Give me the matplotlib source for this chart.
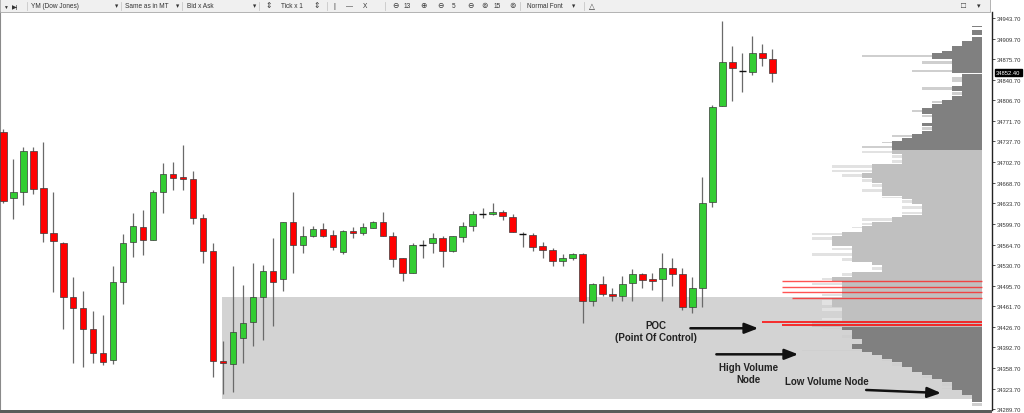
import matplotlib
matplotlib.use("Agg")
import matplotlib.pyplot as plt
from matplotlib.patches import Rectangle
from matplotlib.lines import Line2D
import numpy as np

plt.rcParams['font.family'] = ['Liberation Sans', 'DejaVu Sans']

# ------------------------------------------------------------------ data
opens = [34752.9, 34642.4, 34653.4, 34722.1, 34659.1, 34584.3, 34567.0, 34476.6, 34458.2, 34423.6,
         34382.9, 34371.7, 34502.8, 34568.7, 34594.8, 34572.6, 34652.4, 34682.5, 34677.5, 34674.7,
         34609.4, 34553.6, 34370.5, 34365.0, 34409.0, 34435.8, 34476.6, 34521.2, 34507.3, 34602.2,
         34564.2, 34578.8, 34591.0, 34580.9, 34553.0, 34588.1, 34584.3, 34593.2, 34603.2, 34579.8,
         34541.9, 34516.8, 34564.7, 34567.0, 34575.4, 34554.2, 34577.1, 34596.0, 34616.6, 34616.6,
         34619.9, 34611.1, 34582.6, 34581.4, 34562.0, 34555.8, 34537.4, 34542.4, 34548.6, 34470.5,
         34498.4, 34481.7, 34478.8, 34500.1, 34515.1, 34507.3, 34507.3, 34525.7, 34515.1, 34459.9,
         34493.0, 34636.7, 34796.4, 34870.0, 34855.5, 34853.3, 34886.1, 34875.6]
highs = [34758.4, 34708.2, 34728.8, 34728.8, 34736.1, 34652.4, 34568.7, 34510.1, 34486.7, 34453.2,
         34447.0, 34529.5, 34582.6, 34617.3, 34622.8, 34656.3, 34701.0, 34702.6, 34732.1, 34688.6,
         34616.1, 34567.5, 34403.0, 34529.5, 34497.2, 34534.1, 34531.2, 34575.9, 34603.2, 34652.4,
         34595.5, 34596.5, 34601.0, 34589.3, 34589.3, 34593.8, 34600.5, 34604.4, 34618.9, 34585.5,
         34541.9, 34567.5, 34573.1, 34584.3, 34579.8, 34579.8, 34603.2, 34620.6, 34625.6, 34634.5,
         34622.8, 34616.6, 34585.5, 34584.3, 34568.7, 34558.7, 34548.6, 34550.8, 34550.3, 34500.1,
         34512.3, 34492.7, 34512.8, 34524.0, 34516.8, 34516.8, 34550.8, 34541.9, 34525.2, 34510.1,
         34677.5, 34799.1, 34938.7, 34897.8, 34885.6, 34913.6, 34900.7, 34891.8]
lows = [34634.0, 34607.7, 34631.7, 34649.6, 34569.7, 34486.0, 34423.6, 34366.2, 34360.5, 34366.2,
        34363.8, 34365.0, 34465.4, 34543.6, 34548.0, 34572.6, 34617.3, 34656.8, 34656.8, 34599.3,
        34534.1, 34343.7, 34314.8, 34318.6, 34366.2, 34395.6, 34405.2, 34429.1, 34487.7, 34517.3,
        34550.8, 34577.1, 34577.1, 34555.8, 34549.1, 34575.9, 34581.4, 34592.1, 34578.8, 34527.9,
        34503.9, 34516.8, 34542.4, 34550.8, 34526.9, 34553.0, 34569.7, 34587.6, 34608.9, 34614.4,
        34606.0, 34585.5, 34561.3, 34554.2, 34542.4, 34529.5, 34528.5, 34539.1, 34433.6, 34462.1,
        34479.3, 34470.5, 34470.5, 34471.0, 34492.7, 34488.9, 34471.0, 34496.1, 34455.4, 34450.4,
        34459.9, 34627.3, 34796.4, 34805.8, 34820.8, 34849.3, 34864.3, 34837.6]
closes = [34638.4, 34653.4, 34722.1, 34657.9, 34584.3, 34570.9, 34476.6, 34458.2, 34423.6, 34382.9,
          34367.8, 34501.8, 34567.5, 34595.5, 34572.6, 34653.4, 34682.5, 34675.9, 34674.7, 34609.4,
          34554.7, 34369.5, 34366.2, 34418.0, 34433.6, 34476.6, 34520.2, 34502.8, 34603.2, 34564.7,
          34578.8, 34591.0, 34579.8, 34560.3, 34588.1, 34584.3, 34594.8, 34603.2, 34578.8, 34540.8,
          34516.8, 34564.2, 34564.7, 34575.9, 34554.2, 34578.8, 34596.5, 34615.6, 34616.6, 34618.9,
          34612.7, 34585.5, 34582.6, 34561.3, 34556.3, 34537.9, 34542.4, 34548.6, 34469.9, 34498.4,
          34481.7, 34478.8, 34499.4, 34515.1, 34505.1, 34503.9, 34525.7, 34515.1, 34459.9, 34492.7,
          34634.2, 34794.7, 34870.0, 34860.0, 34855.5, 34886.1, 34876.7, 34852.4]
current_price = 34852.40

tick_labels = ["34943.70", "34909.70", "34875.70", "34840.70", "34806.70", "34771.70", "34737.70",
               "34702.70", "34668.70", "34633.70", "34599.70", "34564.70", "34530.70", "34495.70",
               "34461.70", "34426.70", "34392.70", "34358.70", "34323.70", "34289.70"]

# volume profile: price level tops (each level ends at the next top), volume, lighter volume
prof_top = [34931.6, 34928.3, 34923.3, 34915.7, 34911.9, 34906.2, 34897.3, 34889.5, 34885.6, 34875.6,
            34863.8, 34858.8, 34852.1, 34830.4, 34822.0, 34813.6, 34806.9, 34800.2, 34793.5, 34783.5,
            34776.8, 34768.4, 34763.4, 34755.0, 34750.0, 34743.3, 34738.3, 34733.3, 34723.2, 34716.5,
            34708.2, 34699.8, 34691.4, 34684.7, 34676.4, 34668.0, 34659.6, 34651.3, 34646.2, 34641.2,
            34632.8, 34621.1, 34614.4, 34611.1, 34602.7, 34596.0, 34591.0, 34586.0, 34579.3, 34570.9,
            34562.5, 34552.5, 34544.1, 34535.7, 34530.7, 34519.0, 34510.6, 34503.9, 34493.9, 34485.5,
            34475.5, 34460.4, 34452.0, 34443.7, 34437.0, 34426.9, 34421.9, 34415.2, 34406.8, 34398.5,
            34390.1, 34385.1, 34380.1, 34373.4, 34368.3, 34360.0, 34351.6, 34346.6, 34339.9, 34334.9,
            34326.5, 34321.5, 34313.1, 34301.4]
prof_vol = [10, 0, 10, 0, 10, 20, 30, 40, 50, 30,
            30, 30, 20, 30, 20, 30, 40, 50, 60, 50,
            50, 60, 50, 60, 70, 80, 90, 90, 90, 80,
            80, 110, 110, 120, 110, 100, 100, 100, 80, 70,
            60, 60, 80, 90, 110, 120, 120, 140, 150, 150,
            130, 130, 130, 110, 100, 130, 150, 140, 140, 140,
            150, 140, 140, 140, 170, 140, 130, 130, 120, 130,
            120, 110, 100, 90, 80, 70, 60, 50, 40, 30,
            30, 20, 10, 0]
prof_ext = [0, 0, 0, 0, 0, 0, 0, 0, 120, 60,
            0, 70, 30, 60, 30, 0, 50, 0, 70, 60,
            0, 0, 60, 0, 90, 0, 100, 120, 120, 90,
            90, 150, 150, 140, 120, 110, 120, 0, 100, 80,
            80, 80, 100, 120, 120, 130, 0, 170, 170, 0,
            150, 170, 140, 0, 110, 140, 160, 170, 0, 160,
            160, 160, 0, 160, 0, 160, 0, 140, 0, 0,
            180, 0, 0, 100, 90, 0, 0, 60, 0, 40,
            40, 0, 0, 10]
prof_end = 34293.0
value_area_hi = 34724.0
value_area_lo = 34427.0

hvn_prices = [34504.4, 34493.9, 34485.5, 34475.0]
hvn_len = [200, 200, 200, 190]
poc_prices = [34435.3, 34429.8]
poc_len = [220, 200]

box_start = 22          # candle index where the shaded zone starts
box_hi, box_lo = 34477.7, 34306.4

# annotations (candle index, price)
poc_text = (65.3, 34420.0)
poc_arrow = ((68.8, 34424.8), (75.6, 34424.8))
hvn_text = (74.6, 34350.0)
hvn_arrow = ((71.4, 34381.2), (79.6, 34381.2))
lvn_text = (82.5, 34336.0)
lvn_arrow = ((86.4, 34321.5), (93.9, 34316.4))

# ------------------------------------------------------------------ figure
W, H = 1024, 414
fig = plt.figure(figsize=(W / 100, H / 100), dpi=100, facecolor='white')
ax = fig.add_axes([0, 3 / H, 992 / W, (411 - 13) / H])
ax.set_facecolor('white')

n = len(opens)
ax.set_xlim(-0.33, 99.0)
ax.set_ylim(34288.0, 34954.2)

prof_right = 98.0
vs = 0.1  # candle-index units per volume unit

# shaded zone
ax.add_patch(Rectangle((box_start - 0.1, box_lo), prof_right - box_start + 0.1, box_hi - box_lo,
                       facecolor='#d3d3d3', edgecolor='none', zorder=1))

# volume profile
bottoms = prof_top[1:] + [prof_end]
for top, bot, v, e in zip(prof_top, bottoms, prof_vol, prof_ext):
    mid = (top + bot) / 2
    h = top - bot
    light = value_area_lo < top <= value_area_hi
    if e > 0:
        ax.barh(mid, e * vs, left=prof_right - e * vs, height=h * 0.45,
                color='#e2e2e2' if light else '#cfcfcf', linewidth=0, zorder=2)
    if v > 0:
        ax.barh(mid, v * vs, left=prof_right - v * vs, height=h,
                color='#c0c0c0' if light else '#808080', linewidth=0, zorder=3)

ax.hlines(hvn_prices, [prof_right - l * vs for l in hvn_len], prof_right,
          color=(1, 0.1, 0.1, 0.75), lw=1.0, zorder=4)
ax.hlines(poc_prices, [prof_right - l * vs for l in poc_len], prof_right,
          color=(1, 0, 0, 0.85), lw=1.3, zorder=4)
ax.hlines(current_price, prof_right - 3.0, prof_right, color='white', lw=0.7, zorder=4)

# candles
w = 0.66
for i, (o, h, l, c) in enumerate(zip(opens, highs, lows, closes)):
    ax.vlines(i, l, h, color='#6a6a6a', lw=0.9, zorder=5)
    if abs(c - o) < 1.0:
        ax.hlines(o, i - w / 2, i + w / 2, color='#111111', lw=1.0, zorder=6)
    else:
        col = '#32cd32' if c > o else '#ff0000'
        ax.add_patch(Rectangle((i - w / 2, min(o, c)), w, abs(c - o), facecolor=col,
                               edgecolor='#3a3a3a', lw=0.5, zorder=6))

# annotations
txt_kw = dict(ha='center', va='center', fontsize=7, fontweight='bold', color='#222222',
              linespacing=1.2, zorder=8)
ax.text(poc_text[0], poc_text[1], "POC\n(Point Of Control)", **txt_kw)
ax.text(hvn_text[0], hvn_text[1], "High Volume\nNode", **txt_kw)
ax.text(lvn_text[0], lvn_text[1], "Low Volume Node", **txt_kw)
for start, end in (poc_arrow, hvn_arrow, lvn_arrow):
    ax.annotate('', xy=end, xytext=start,
                arrowprops=dict(arrowstyle='-|>,head_length=0.9,head_width=0.35', color='#111111',
                                lw=1.8, mutation_scale=9, shrinkA=0, shrinkB=0), zorder=8)

# axes styling
ax.set_xticks([])
ax.yaxis.tick_right()
ax.set_yticks([float(t) for t in tick_labels])
ax.set_yticklabels(tick_labels)
ax.tick_params(axis='y', labelsize=4.2, length=2, width=0.6, pad=1.5, colors='#333333')
for s in ('top', 'bottom'):
    ax.spines[s].set_visible(False)
ax.spines['right'].set_color('#222222')
ax.spines['right'].set_linewidth(1.0)
ax.spines['left'].set_color('#8a8a8a')
ax.spines['left'].set_linewidth(1.5)

ax.text(1.004, current_price, f"{current_price:.2f}", transform=ax.get_yaxis_transform(),
        ha='left', va='center', fontsize=4.2, color='white', clip_on=False, zorder=10,
        bbox=dict(boxstyle='square,pad=0.2', fc='black', ec='black'))

# bottom dark border
fig.add_artist(Rectangle((0, 0), 992 / W, 3 / H, transform=fig.transFigure,
                         facecolor='#5a5a5a', edgecolor='none'))

# toolbar
tb_y0 = 1 - 13 / H
fig.add_artist(Rectangle((0, tb_y0), 990 / W, 13 / H, transform=fig.transFigure,
                         facecolor='#f0f0f0', edgecolor='#a8a8a8', lw=0.6))
ty = 1 - 7 / H
items = [(3, '▼', 3.5), (12, '▶|', 4.5), (31, 'YM (Dow Jones)', 4.7), (115, '▾', 4.7),
         (125, 'Same as in MT', 4.7), (176, '▾', 4.7), (187, 'Bid x Ask', 4.7), (253, '▾', 4.7),
         (265, '⇕', 5.5), (281, 'Tick x 1', 4.7), (313, '⇕', 5.5), (333, '|', 5), (346, '—', 5),
         (363, 'X', 4.7), (392, '⊖', 5.5), (404, '13', 4.7), (420, '⊕', 5.5), (437, '⊖', 5.5),
         (452, '5', 4.7), (467, '⊖', 5.5), (481, '⊚', 5.5), (494, '15', 4.7), (509, '⊚', 5.5),
         (527, 'Normal Font', 4.7), (572, '▾', 4.7), (589, '△', 5.5), (961, '□', 6), (977, '▾', 5)]
for px, s, fs in items:
    fig.text(px / W, ty, s, fontsize=fs, color='#333333', ha='left', va='center',
             family=['Liberation Sans', 'DejaVu Sans'])
for px in [27, 121, 182, 259, 327, 385, 520, 584]:
    fig.add_artist(Line2D([px / W, px / W], [1 - 11 / H, 1 - 3 / H], transform=fig.transFigure,
                          color='#c8c8c8', lw=0.6))

fig.savefig('out.png', dpi=100, facecolor='white')
